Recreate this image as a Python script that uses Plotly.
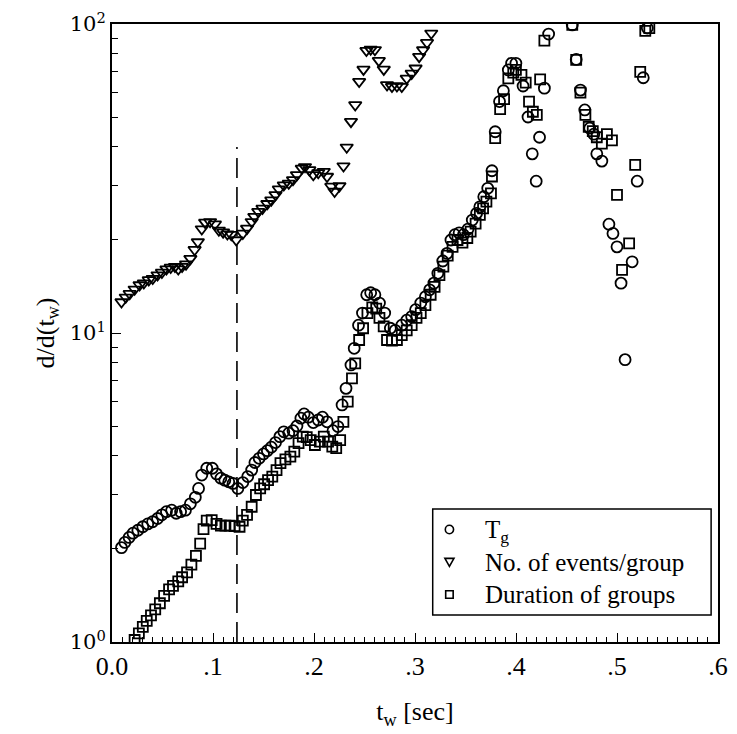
import plotly.graph_objects as go

# --- No. of events per group ---
events_t = [0.0094, 0.0136, 0.0175, 0.0224, 0.0273, 0.0315, 0.0364, 0.0403, 0.0451, 0.0494,
            0.0539, 0.0581, 0.0623, 0.0656, 0.0694, 0.0733, 0.0776, 0.0818, 0.0850, 0.0889,
            0.0922, 0.0971, 0.1019, 0.1058, 0.1100, 0.1142, 0.1181, 0.1230, 0.1295, 0.1337,
            0.1383, 0.1409, 0.1448, 0.1490, 0.1538, 0.1577, 0.1619, 0.1652, 0.1701, 0.1750,
            0.1792, 0.1831, 0.1879, 0.1911, 0.1954, 0.1993, 0.2042, 0.2097, 0.2129, 0.2171,
            0.2204, 0.2252, 0.2292, 0.2324, 0.2366, 0.2408, 0.2447, 0.2490, 0.2519, 0.2561,
            0.2603, 0.2642, 0.2691, 0.2723, 0.2772, 0.2821, 0.2869, 0.2918, 0.2967, 0.3006,
            0.3041, 0.3080, 0.3119, 0.3161]
events_v = [12.6, 13.05, 13.4, 13.85, 14.3, 14.5, 14.85, 15.0, 15.4, 15.7,
            16.1, 16.3, 16.4, 16.1, 16.4, 16.7, 17.4, 18.6, 19.7, 21.7,
            22.8, 22.9, 22.5, 21.5, 21.2, 20.9, 20.8, 20.0, 21.0, 21.8,
            22.9, 23.8, 24.7, 25.3, 26.2, 26.9, 28.0, 29.2, 30.1, 30.5,
            31.3, 32.5, 34.1, 34.5, 33.7, 32.5, 33.0, 33.3, 32.1, 29.8,
            28.7, 29.9, 34.7, 39.9, 48.3, 54.7, 65.1, 71.3, 82.0, 82.8,
            82.5, 76.1, 71.3, 63.5, 62.7, 63.0, 62.7, 66.7, 69.2, 71.9,
            78.4, 82.4, 87.0, 93.3]

# --- Tg ---
tg_t = [0.0094, 0.0127, 0.0169, 0.0208, 0.0256, 0.0305, 0.0354, 0.0402, 0.0451, 0.0494,
        0.0539, 0.0591, 0.0636, 0.0679, 0.0727, 0.0776, 0.0825, 0.0857, 0.0889, 0.0938,
        0.0993, 0.1035, 0.1078, 0.1117, 0.1156, 0.1198, 0.1246, 0.1295, 0.1344, 0.1383,
        0.1415, 0.1457, 0.1500, 0.1538, 0.1577, 0.1619, 0.1662, 0.1701, 0.1750, 0.1792,
        0.1831, 0.1870, 0.1902, 0.1944, 0.1993, 0.2042, 0.2084, 0.2129, 0.2188, 0.2237,
        0.2278, 0.2317, 0.2366, 0.2398, 0.2441, 0.2480, 0.2522, 0.2561, 0.2603, 0.2648,
        0.2700, 0.2756, 0.2804, 0.2869, 0.2918, 0.2967, 0.3006, 0.3057, 0.3103, 0.3145,
        0.3187, 0.3226, 0.3275, 0.3317, 0.3356, 0.3395, 0.3437, 0.3479, 0.3525, 0.3567,
        0.3610, 0.3642, 0.3681, 0.3720, 0.3762, 0.3794, 0.3837, 0.3875, 0.3924, 0.3956,
        0.3999, 0.4070, 0.4119, 0.4161, 0.4200, 0.4233, 0.4281, 0.4323, 0.4557, 0.4596,
        0.4638, 0.4681, 0.4730, 0.4770, 0.4800, 0.4850, 0.4920, 0.4960, 0.5000, 0.5040,
        0.5080, 0.5150, 0.5200, 0.5260, 0.5300]
tg_v = [2.02, 2.10, 2.18, 2.25, 2.30, 2.36, 2.41, 2.45, 2.51, 2.58,
        2.64, 2.67, 2.61, 2.64, 2.67, 2.80, 2.94, 3.14, 3.47, 3.65,
        3.65, 3.50, 3.39, 3.34, 3.30, 3.26, 3.14, 3.28, 3.43, 3.60,
        3.81, 3.93, 4.06, 4.16, 4.27, 4.42, 4.62, 4.79, 4.74, 4.83,
        5.00, 5.30, 5.47, 5.34, 5.13, 5.23, 5.34, 5.16, 4.83, 4.98,
        5.85, 6.62, 7.88, 8.92, 10.6, 11.6, 13.3, 13.5, 13.3, 12.5,
        11.6, 10.36, 10.2, 10.6, 11.0, 11.3, 11.9, 12.5, 13.1, 13.8,
        14.5, 15.6, 17.1, 18.1, 20.0, 20.8, 21.1, 20.8, 21.7, 23.2,
        24.4, 25.6, 27.6, 29.4, 33.5, 44.8, 56.1, 60.8, 71.0, 74.6,
        74.6, 63.0, 50.0, 38.0, 31.0, 43.0, 62.0, 92.8, 99.3, 76.8,
        61.1, 52.7, 46.0, 44.0, 38.0, 36.0, 22.5, 21.0, 19.0, 14.5,
        8.2, 17.0, 31.0, 67.0, 97.0]

# --- Duration of groups ---
dur_t = [0.0224, 0.0266, 0.0305, 0.0344, 0.0386, 0.0428, 0.0474, 0.0516, 0.0565, 0.0604,
         0.0656, 0.0694, 0.0743, 0.0786, 0.0831, 0.0873, 0.0906, 0.0938, 0.0987, 0.1035,
         0.1078, 0.1123, 0.1165, 0.1214, 0.1263, 0.1295, 0.1337, 0.1383, 0.1425, 0.1467,
         0.1506, 0.1545, 0.1587, 0.1629, 0.1668, 0.1717, 0.1766, 0.1805, 0.1847, 0.1889,
         0.1928, 0.1967, 0.2009, 0.2058, 0.2097, 0.2139, 0.2181, 0.2220, 0.2259, 0.2291,
         0.2334, 0.2376, 0.2408, 0.2447, 0.2486, 0.2529, 0.2577, 0.2616, 0.2648, 0.2690,
         0.2723, 0.2772, 0.2821, 0.2869, 0.2918, 0.2967, 0.3015, 0.3057, 0.3103, 0.3155,
         0.3194, 0.3242, 0.3281, 0.3324, 0.3372, 0.3421, 0.3470, 0.3518, 0.3551, 0.3600,
         0.3642, 0.3674, 0.3707, 0.3752, 0.3762, 0.3794, 0.3843, 0.3882, 0.3924, 0.3973,
         0.3999, 0.4054, 0.4096, 0.4129, 0.4167, 0.4206, 0.4239, 0.4281, 0.4557, 0.4596,
         0.4638, 0.4687, 0.4720, 0.4760, 0.4800, 0.4850, 0.4900, 0.4950, 0.5000, 0.5050,
         0.5120, 0.5180, 0.5230, 0.5280, 0.5320]
dur_v = [1.015, 1.067, 1.12, 1.17, 1.22, 1.275, 1.335, 1.41, 1.48, 1.52,
         1.57, 1.62, 1.68, 1.78, 1.90, 2.08, 2.32, 2.47, 2.48, 2.41,
         2.38, 2.38, 2.38, 2.37, 2.36, 2.47, 2.58, 2.74, 2.99, 3.14,
         3.24, 3.34, 3.43, 3.60, 3.79, 3.90, 3.98, 4.13, 4.40, 4.62,
         4.60, 4.50, 4.34, 4.45, 4.62, 4.45, 4.29, 4.24, 4.50, 5.16,
         6.0, 7.13, 7.98, 9.49, 10.36, 11.6, 12.1, 12.0, 11.2, 10.5,
         9.49, 9.45, 9.49, 9.85, 10.2, 10.6, 11.2, 11.6, 12.3, 13.3,
         14.1, 15.4, 16.4, 17.8, 19.0, 20.0, 19.6, 20.3, 21.3, 22.6,
         24.1, 25.3, 26.6, 28.3, 32.1, 42.7, 53.0, 57.1, 66.7, 69.6,
         71.0, 68.4, 64.6, 56.1, 52.0, 50.8, 66.2, 88.3, 99.3, 76.5,
         60.0, 50.8, 46.5, 45.0, 43.0, 41.0, 44.0, 42.0, 28.0, 16.0,
         19.5, 35.0, 70.0, 95.0, 97.0]

# reference marker
marker_t = 0.1237
marker_span = [1.0, 40.0]

x_ticks = [0.0, 0.1, 0.2, 0.3, 0.4, 0.5, 0.6]
x_labels = ["0.0", ".1", ".2", ".3", ".4", ".5", ".6"]
y_ticks = [1, 10, 100]
y_labels = ["10<sup>0</sup>", "10<sup>1</sup>", "10<sup>2</sup>"]

legend_labels = ["T<sub>g</sub>", "No. of events/group", "Duration of groups"]

FONT = "Liberation Serif"
BLACK = "black"

W, H = 737, 734
M_L, M_R, M_T, M_B = 112, 9, 24, 92
PLOT_W = W - M_L - M_R
PLOT_H = H - M_T - M_B


def px_x(p):
    """pixel column -> paper x"""
    return (p - M_L) / PLOT_W


def px_y(p):
    """pixel row -> paper y"""
    return (H - M_B - p) / PLOT_H


fig = go.Figure()

fig.add_trace(go.Scatter(
    x=tg_t, y=tg_v, mode="markers", name=legend_labels[0], showlegend=False,
    marker=dict(symbol="circle-open", size=11, color=BLACK, line=dict(width=1.8)),
))
fig.add_trace(go.Scatter(
    x=events_t, y=events_v, mode="markers", name=legend_labels[1], showlegend=False,
    marker=dict(symbol="triangle-down-open", size=11, color=BLACK, line=dict(width=1.8)),
))
fig.add_trace(go.Scatter(
    x=dur_t, y=dur_v, mode="markers", name=legend_labels[2], showlegend=False,
    marker=dict(symbol="square-open", size=10, color=BLACK, line=dict(width=1.8)),
))
fig.add_trace(go.Scatter(
    x=[marker_t, marker_t], y=marker_span, mode="lines", showlegend=False,
    line=dict(color=BLACK, width=1.6, dash="20px,9px"), hoverinfo="skip",
))

# --- legend box drawn by hand (tight row spacing) ---
LEG_FONT = 25
row_gap = 1.3 * LEG_FONT
box_l, box_r, box_t, box_b = 438, 721, 509, 615
sym_x = 455
text_x = 489
mid_row = (box_t + box_b) / 2
rows = [mid_row - row_gap, mid_row, mid_row + row_gap]
r = 4.2

shapes = [dict(type="rect", xref="paper", yref="paper",
               x0=px_x(box_l), x1=px_x(box_r), y0=px_y(box_b), y1=px_y(box_t),
               line=dict(color=BLACK, width=1.5), fillcolor="white", layer="above")]
# circle
shapes.append(dict(type="circle", xref="paper", yref="paper",
                   x0=px_x(sym_x - r), x1=px_x(sym_x + r),
                   y0=px_y(rows[0] + r), y1=px_y(rows[0] - r),
                   line=dict(color=BLACK, width=1.6), layer="above"))
# downward triangle
ty = rows[1]
tri_path = "M {:.5f},{:.5f} L {:.5f},{:.5f} L {:.5f},{:.5f} Z".format(
    px_x(sym_x - 4.6), px_y(ty - 3.6), px_x(sym_x + 4.6), px_y(ty - 3.6),
    px_x(sym_x), px_y(ty + 4.4))
shapes.append(dict(type="path", xref="paper", yref="paper", path=tri_path,
                   line=dict(color=BLACK, width=1.6), layer="above"))
# square
shapes.append(dict(type="rect", xref="paper", yref="paper",
                   x0=px_x(sym_x - 3.8), x1=px_x(sym_x + 3.8),
                   y0=px_y(rows[2] + 3.8), y1=px_y(rows[2] - 3.8),
                   line=dict(color=BLACK, width=1.6), layer="above"))

annotations = [dict(
    text="<br>".join(legend_labels), xref="paper", yref="paper",
    x=px_x(text_x), y=px_y(mid_row), xanchor="left", yanchor="middle", align="left",
    showarrow=False, font=dict(family=FONT, size=LEG_FONT, color=BLACK),
)]

fig.update_layout(
    width=W, height=H,
    margin=dict(l=M_L, r=M_R, t=M_T, b=M_B),
    paper_bgcolor="white", plot_bgcolor="white",
    font=dict(family=FONT, size=25, color=BLACK),
    showlegend=False,
    shapes=shapes,
    annotations=annotations,
    xaxis=dict(
        range=[0, 0.6], showgrid=False, zeroline=False,
        showline=True, linecolor=BLACK, linewidth=2, mirror=True,
        ticks="inside", ticklen=9, tickwidth=1.2, tickcolor=BLACK,
        tickvals=x_ticks, ticktext=x_labels,
        tickfont=dict(family=FONT, size=26),
        minor=dict(dtick=0.01, ticks="inside", ticklen=5, tickwidth=1, tickcolor=BLACK),
        title=dict(text="t<sub>w</sub> [sec]", font=dict(family=FONT, size=26), standoff=22),
    ),
    yaxis=dict(
        type="log", range=[0, 2], showgrid=False, zeroline=False,
        showline=True, linecolor=BLACK, linewidth=2, mirror=True,
        ticks="inside", ticklen=9, tickwidth=1.2, tickcolor=BLACK,
        tickvals=y_ticks, ticktext=y_labels,
        tickfont=dict(family="DejaVu Serif", size=21),
        minor=dict(ticks="inside", ticklen=6, tickwidth=1, tickcolor=BLACK,
                   tickvals=[2, 3, 4, 5, 6, 7, 8, 9, 20, 30, 40, 50, 60, 70, 80, 90]),
        title=dict(text="d/d(t<sub>w</sub>)", font=dict(family=FONT, size=26), standoff=8),
    ),
)

fig.write_html("out.html")
